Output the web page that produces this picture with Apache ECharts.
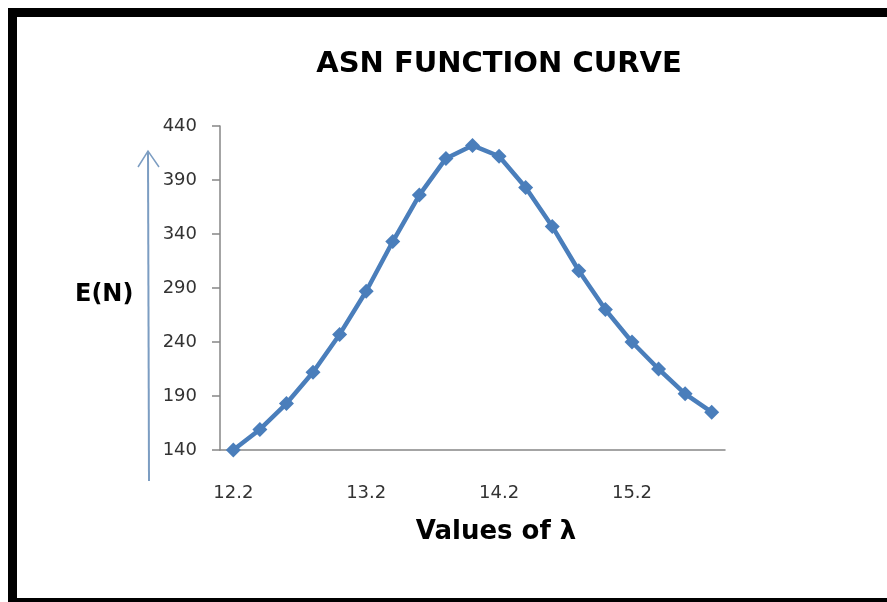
<!DOCTYPE html>
<html>
<head>
<meta charset="utf-8">
<script src="https://cdn.jsdelivr.net/npm/echarts@6/dist/echarts.min.js"></script>
<style>
  html, body { margin: 0; padding: 0; background: #ffffff; }
  #chart { width: 887px; height: 602px; }
</style>
</head>
<body>
<div id="chart"></div>
<script>
// λ values along the horizontal axis
const lambdaValues = ['12.2', '12.4', '12.6', '12.8', '13.0', '13.2', '13.4', '13.6', '13.8', '14.0',
                      '14.2', '14.4', '14.6', '14.8', '15.0', '15.2', '15.4', '15.6', '15.8'];
// Expected sample number E(N) at each λ
const asnValues = [140, 159, 183, 212, 247, 287, 333, 376, 410, 422,
                   412, 383, 347, 306, 270, 240, 215, 192, 175];
// Vertical axis range and step
const yMin = 140, yMax = 440, yStep = 50;

const FONT = 'DejaVu Sans';
const chart = echarts.init(document.getElementById('chart'), null, { renderer: 'canvas' });

chart.setOption({
  backgroundColor: '#ffffff',
  animation: false,
  title: {
    text: 'ASN FUNCTION CURVE',
    left: 494,
    top: 45,
    textAlign: 'center',
    textStyle: { fontFamily: FONT, fontWeight: 'bold', fontSize: 29, color: '#000000' }
  },
  grid: { left: 220, right: 162, top: 126, bottom: 152, containLabel: false },
  xAxis: {
    type: 'category',
    data: lambdaValues,
    boundaryGap: true,
    axisLine: { lineStyle: { color: '#868686', width: 1.5 } },
    axisTick: { show: false },
    axisLabel: { interval: 4, margin: 34, fontFamily: FONT, fontSize: 18, color: '#333333' },
    splitLine: { show: false }
  },
  yAxis: {
    type: 'value',
    min: yMin,
    max: yMax,
    interval: yStep,
    axisLine: { show: true, lineStyle: { color: '#868686', width: 1.5 } },
    axisTick: { show: true, inside: false, length: 8, lineStyle: { color: '#868686', width: 1.5 } },
    axisLabel: { margin: 23, fontFamily: FONT, fontSize: 18, color: '#333333' },
    splitLine: { show: false }
  },
  series: [{
    type: 'line',
    data: asnValues,
    symbol: 'diamond',
    symbolSize: 15,
    lineStyle: { color: '#4A7EBB', width: 4.5 },
    itemStyle: { color: '#4A7EBB' },
    z: 3
  }],
  graphic: [
    // frame bands
    { type: 'rect', shape: { x: 8, y: 8, width: 879, height: 9 }, style: { fill: '#000000' }, silent: true },
    { type: 'rect', shape: { x: 8, y: 8, width: 9, height: 594 }, style: { fill: '#000000' }, silent: true },
    { type: 'rect', shape: { x: 8, y: 598, width: 879, height: 4 }, style: { fill: '#000000' }, silent: true },
    // vertical arrow beside the value axis
    { type: 'line', shape: { x1: 149, y1: 481, x2: 148, y2: 151 },
      style: { stroke: '#7C9DC2', lineWidth: 2 }, silent: true },
    { type: 'polyline', shape: { points: [[138, 167], [148, 151], [159, 167]] },
      style: { stroke: '#7C9DC2', lineWidth: 1.5, fill: null }, silent: true },
    // value axis caption
    { type: 'text', left: 75, top: 283,
      style: { text: 'E(N)', font: 'bold 24px "DejaVu Sans"', fill: '#000000' }, silent: true },
    // category axis caption
    { type: 'text', x: 496, y: 532,
      style: { text: 'Values of λ', font: 'bold 26px "DejaVu Sans"', fill: '#000000',
               align: 'center', verticalAlign: 'middle' }, silent: true }
  ]
});
</script>
</body>
</html>
